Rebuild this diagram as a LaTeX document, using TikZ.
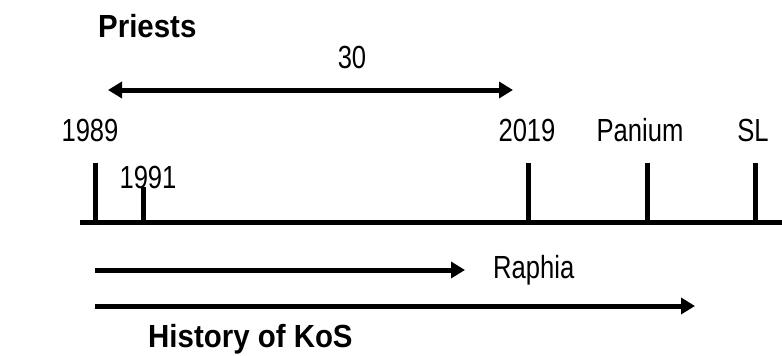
\documentclass[tikz,border=0pt]{standalone}
\usepackage{fontspec}
\setmainfont{Liberation Sans}
\newfontfamily\narrowfont[FakeStretch=0.8]{Liberation Sans}
\newfontfamily\boldfont[FakeStretch=0.92]{Liberation Sans Bold}
\usepackage{tikz}
\usetikzlibrary{arrows.meta}

\tikzset{
  thick line/.style={line width=5pt},
  label text/.style={font=\narrowfont\fontsize{32}{33}\selectfont, inner sep=0pt},
  title text/.style={font=\boldfont\fontsize{32}{33}\selectfont, inner sep=0pt},
  big tip/.style={-{Triangle[length=14pt,width=16pt]}}
}

\begin{document}
\begin{tikzpicture}[x=1pt, y=-1pt]

\useasboundingbox (0, 0) rectangle (782, 356);

% time axis
\coordinate (axisL) at (80, 222);
\coordinate (axisR) at (782, 222);
\draw[thick line] (axisL) -- (axisR);

% ticks
\foreach \i\j in {95/163, 143/187, 528/163, 647/163, 755/163}{

\coordinate (top\i) at (\i, \j);
\coordinate (bot\i) at (\i, 222);
\draw[thick line] (top\i) -- (bot\i);

}

% labels above the ticks
\node[label text, anchor=base] (y1989) at (90, 141) {1989};
\node[label text, anchor=base] (y2019) at (527, 141) {2019};
\node[label text, anchor=base] (panium) at (640, 141) {Panium};
\node[label text, anchor=base] (sl) at (753, 141) {SL};
\node[label text, anchor=base] (y1991) at (148, 188) {1991};

% priests span
\node[title text, anchor=base west] (priests) at (98, 37) {Priests};
\coordinate (spanL) at (108, 90);
\coordinate (spanR) at (513, 90);
\draw[thick line, {Triangle[length=14pt,width=16pt]}-{Triangle[length=14pt,width=16pt]}] (spanL) -- (spanR);
\node[label text, anchor=base] (span) at (352, 68) {30};

% raphia and kingdom arrows
\coordinate (raphiaL) at (95, 270);
\coordinate (raphiaR) at (465, 270);
\draw[thick line, big tip] (raphiaL) -- (raphiaR);
\node[label text, anchor=base west] (raphia) at (493, 278) {Raphia};

\coordinate (kosL) at (95, 306);
\coordinate (kosR) at (695, 306);
\draw[thick line, big tip] (kosL) -- (kosR);
\node[title text, anchor=base west] (kos) at (148, 347) {History of KoS};

\end{tikzpicture}
\end{document}
